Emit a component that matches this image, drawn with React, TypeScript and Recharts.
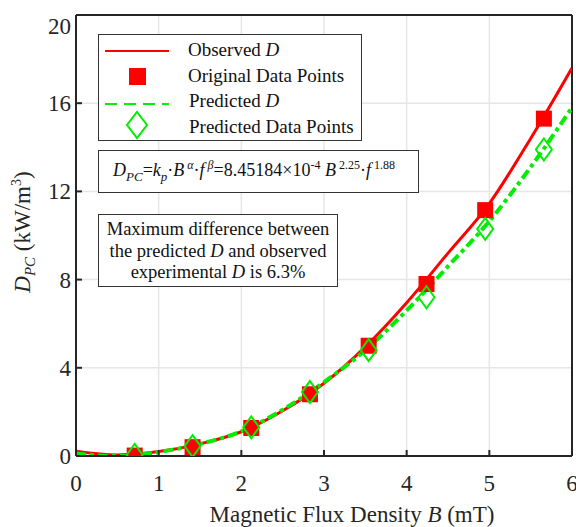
import React from "react";
import { ComposedChart, Line, Scatter, XAxis, YAxis, CartesianGrid, ReferenceLine } from "recharts";

// smooth curves, sampled every 0.5 mT
const curveB = [0, 0.5, 1, 1.5, 2, 2.5, 3, 3.5, 4, 4.5, 5, 5.5, 6];
const observedCurve = [0.22, 0.05, 0.2, 0.55, 1.1, 2.05, 3.3, 4.95, 6.95, 9.2, 11.45, 14.4, 17.6];
const predictedCurve = [0.1, 0.0, 0.18, 0.55, 1.12, 2.1, 3.35, 4.8, 6.6, 8.6, 10.65, 13.1, 15.8];

// measured / predicted points
const pointB = [0.71, 1.41, 2.12, 2.83, 3.54, 4.24, 4.95, 5.66];
const observedPoints = [0.02, 0.4, 1.27, 2.8, 5.0, 7.8, 11.15, 15.3];
const predictedPoints = [0.05, 0.45, 1.3, 2.9, 4.8, 7.2, 10.3, 13.9];

const xTicks = [0, 1, 2, 3, 4, 5, 6];
const yTicks = [0, 4, 8, 12, 16, 20];

const FONT = `"Liberation Serif", "Tinos", "Times New Roman"`;
const AXIS = "#262626";
const RED = "#ff0000";
const GREEN = "#00ee00";

const observedLine = curveB.map((b, i) => ({ b, d: observedCurve[i] }));
const predictedLine = curveB.map((b, i) => ({ b, d: predictedCurve[i] }));
const observedScatter = pointB.map((b, i) => ({ b, d: observedPoints[i] }));
const predictedScatter = pointB.map((b, i) => ({ b, d: predictedPoints[i] }));

const XTick = (props: any) => {
  const { x, y, payload } = props;
  return (
    <g>
      <line x1={x} y1={y} x2={x} y2={y - 6} stroke={AXIS} strokeWidth={2} />
      <text x={x} y={y + 35} textAnchor="middle" fontSize={23} fill={AXIS} style={{ fontFamily: FONT }}>
        {payload.value}
      </text>
    </g>
  );
};

const YTick = (props: any) => {
  const { x, y, payload } = props;
  const dy = payload.value === 20 ? 19 : 8;
  return (
    <g>
      <line x1={x} y1={y} x2={x + 6} y2={y} stroke={AXIS} strokeWidth={2} />
      <text x={x - 5} y={y + dy} textAnchor="end" fontSize={23} fill={AXIS} style={{ fontFamily: FONT }}>
        {payload.value}
      </text>
    </g>
  );
};

const Square = (props: any) => (
  <rect x={props.cx - 8} y={props.cy - 8} width={16} height={16} fill={RED} />
);

const Diamond = (props: any) => {
  const { cx, cy } = props;
  return (
    <polygon
      points={`${cx},${cy - 11} ${cx + 8},${cy} ${cx},${cy + 11} ${cx - 8},${cy}`}
      fill="none"
      stroke={GREEN}
      strokeWidth={2}
    />
  );
};

const boxStyle: React.CSSProperties = {
  position: "absolute",
  background: "#fff",
  border: "1.5px solid #333",
  boxSizing: "border-box",
  color: "#111",
  fontFamily: FONT,
};

export default function App() {
  return (
    <div style={{ position: "absolute", left: 0, top: 0, width: 576, height: 527, background: "#fff", fontFamily: FONT }}>
      <ComposedChart width={576} height={527} margin={{ top: 15, right: 4, bottom: 0, left: 0 }}>
        <CartesianGrid stroke="#e6e6e6" strokeWidth={1.5} />
        <XAxis
          dataKey="b"
          type="number"
          domain={[0, 6]}
          ticks={xTicks}
          allowDataOverflow
          height={71}
          tickSize={0}
          tickMargin={0}
          tickLine={false}
          axisLine={{ stroke: AXIS, strokeWidth: 2 }}
          tick={<XTick />}
        />
        <YAxis
          dataKey="d"
          type="number"
          domain={[0, 20]}
          ticks={yTicks}
          allowDataOverflow
          width={76}
          tickSize={0}
          tickMargin={0}
          tickLine={false}
          axisLine={{ stroke: AXIS, strokeWidth: 2 }}
          tick={<YTick />}
        />
        <ReferenceLine y={20} stroke={AXIS} strokeWidth={2} />
        <ReferenceLine x={6} stroke={AXIS} strokeWidth={2} />
        <Line data={observedLine} dataKey="d" type="monotone" stroke={RED} strokeWidth={3} dot={false} isAnimationActive={false} />
        <Scatter data={observedScatter} dataKey="d" shape={<Square />} isAnimationActive={false} />
        <Line
          data={predictedLine}
          dataKey="d"
          type="monotone"
          stroke={GREEN}
          strokeWidth={4}
          strokeDasharray="10 4 4 4"
          dot={false}
          isAnimationActive={false}
        />
        <Scatter data={predictedScatter} dataKey="d" shape={<Diamond />} isAnimationActive={false} />
      </ComposedChart>

      {/* legend */}
      <div style={{ ...boxStyle, left: 98, top: 34, width: 264, height: 107, fontSize: 19 }}>
        <svg width={80} height={105} style={{ position: "absolute", left: 0, top: 0 }}>
          <line x1={6} y1={16} x2={70} y2={16} stroke={RED} strokeWidth={2} />
          <rect x={30} y={33} width={17} height={17} fill={RED} />
          <line x1={6} y1={69} x2={70} y2={69} stroke={GREEN} strokeWidth={2} strokeDasharray="12 7" />
          <polygon points="38,77 48,90 38,103 28,90" fill="none" stroke={GREEN} strokeWidth={2} />
        </svg>
        <div style={{ position: "absolute", left: 89, top: 2, lineHeight: "25.5px", whiteSpace: "nowrap" }}>
          <div style={{ height: 25.5 }}>Observed <i>D</i></div>
          <div style={{ height: 25.5 }}>Original Data Points</div>
          <div style={{ height: 25.5, marginLeft: 1 }}>Predicted <i>D</i></div>
          <div style={{ height: 25.5, marginLeft: 1 }}>Predicted Data Points</div>
        </div>
      </div>

      {/* model equation */}
      <div
        style={{
          ...boxStyle,
          left: 98,
          top: 150,
          width: 321,
          height: 43,
          fontSize: 18,
          display: "flex",
          alignItems: "center",
          paddingLeft: 14,
          whiteSpace: "nowrap",
        }}
      >
        <span>
          <i>D</i>
          <sub style={{ fontSize: 13 }}><i>PC</i></sub>=<i>k</i>
          <sub style={{ fontSize: 13 }}><i>p</i></sub>·<i>B</i>
          <sup style={{ fontSize: 12 }}> <i>α</i></sup>·<i>f</i>
          <sup style={{ fontSize: 12 }}> <i>β</i></sup>=8.45184×10
          <sup style={{ fontSize: 12 }}>-4</sup> <i>B</i>
          <sup style={{ fontSize: 12 }}> 2.25</sup>·<i>f</i>
          <sup style={{ fontSize: 12 }}> 1.88</sup>
        </span>
      </div>

      {/* max difference note */}
      <div
        style={{
          ...boxStyle,
          left: 98,
          top: 214,
          width: 240,
          height: 73,
          fontSize: 18.5,
          lineHeight: "21.5px",
          textAlign: "center",
          paddingTop: 4,
        }}
      >
        Maximum difference between
        <br />
        the predicted <i>D</i> and observed
        <br />
        experimental <i>D</i> is 6.3%
      </div>

      {/* axis titles */}
      <div
        style={{
          position: "absolute",
          left: 352,
          top: 515,
          transform: "translate(-50%, -50%)",
          fontSize: 23,
          color: AXIS,
          whiteSpace: "nowrap",
        }}
      >
        Magnetic Flux Density <i>B</i> (mT)
      </div>
      <div
        style={{
          position: "absolute",
          left: 24,
          top: 232,
          transform: "translate(-50%, -50%) rotate(-90deg)",
          fontSize: 23,
          color: AXIS,
          whiteSpace: "nowrap",
        }}
      >
        <i>D</i>
        <sub style={{ fontSize: 15 }}><i>PC</i></sub> (kW/m<sup style={{ fontSize: 14 }}>3</sup>)
      </div>
    </div>
  );
}
